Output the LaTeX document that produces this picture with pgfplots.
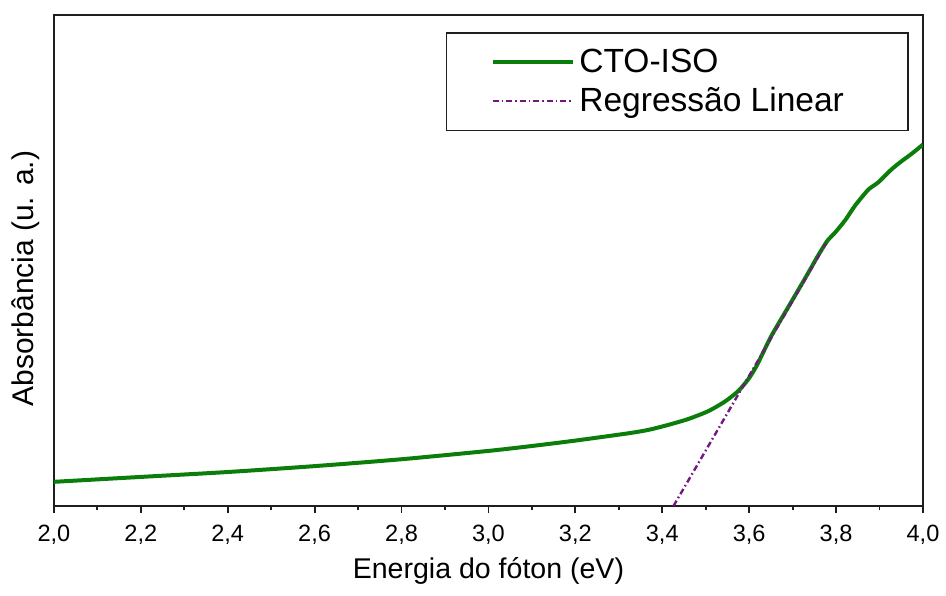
\documentclass[border=0pt]{standalone}
\usepackage{pgfplots}
\pgfplotsset{compat=1.18}
\usepackage{fontspec}
\setmainfont{Liberation Sans}
\definecolor{cgreen}{RGB}{10,125,10}
\definecolor{cpurple}{RGB}{115,25,125}
\definecolor{caxis}{RGB}{30,30,30}
\begin{document}
\begin{tikzpicture}
\begin{axis}[
  scale only axis,
  width=435.5pt, height=246pt,
  xmin=2, xmax=4, ymin=0, ymax=1,
  axis line style={caxis, line width=1pt},
  xtick={2,2.2,...,4.01},
  minor x tick num=1,
  xtick pos=bottom,
  tick align=outside,
  major tick length=3.5pt,
  minor tick length=2pt,
  tick style={caxis, line width=0.9pt},
  ytick=\empty,
  xticklabel={\pgfmathprintnumber[assume math mode=true,fixed,fixed zerofill,precision=1,use comma]{\tick}},
  xticklabel style={font=\fontsize{11.8}{14}\selectfont, yshift=-2.5pt},
  xlabel={Energia do fóton (eV)},
  xlabel style={font=\fontsize{14.3}{17}\selectfont, at={(axis description cs:0.5,0)}, anchor=center, yshift=-32.5pt},
  ylabel={Absorbância (u. a.)},
  ylabel style={font=\fontsize{15}{18}\selectfont, at={(axis description cs:-0.032,0.463)}, anchor=center, rotate=0},
  legend style={at={(axis description cs:0.9835,0.9654)}, anchor=north east, draw=caxis, line width=0.8pt,
     font=\fontsize{16.8}{20}\selectfont, inner xsep=22pt, inner ysep=6pt, row sep=2pt},
  legend cell align=left,
  legend image code/.code={\draw[#1] (0pt,0pt) -- (40.5pt,0pt);},
]
\addplot[cgreen, line width=2pt, smooth, tension=0.4] coordinates {
(2.000,0.049) (2.200,0.059) (2.400,0.069) (2.600,0.081) (2.800,0.095)
(3.000,0.112) (3.100,0.122) (3.200,0.133) (3.323,0.148) (3.369,0.155)
(3.414,0.165) (3.460,0.177) (3.506,0.193) (3.545,0.213) (3.575,0.234)
(3.598,0.258) (3.617,0.285) (3.651,0.346) (3.690,0.405) (3.729,0.464)
(3.760,0.512) (3.780,0.540) (3.798,0.557) (3.821,0.582) (3.844,0.612)
(3.874,0.644) (3.897,0.659) (3.927,0.685) (3.949,0.701) (3.975,0.718)
(4.000,0.736)
};
\addlegendentry{CTO-ISO}
\addplot[cpurple, line width=1.2pt, dash pattern=on 3pt off 1.5pt on 0.8pt off 1.5pt] coordinates {
(3.426,0) (3.777,0.535)
};
\addlegendentry{Regressão Linear\rule{8pt}{0pt}}
\end{axis}
\path (current axis.south west) ++(-27pt,-45pt) rectangle ++(473pt,298.5pt);
\end{tikzpicture}
\end{document}
